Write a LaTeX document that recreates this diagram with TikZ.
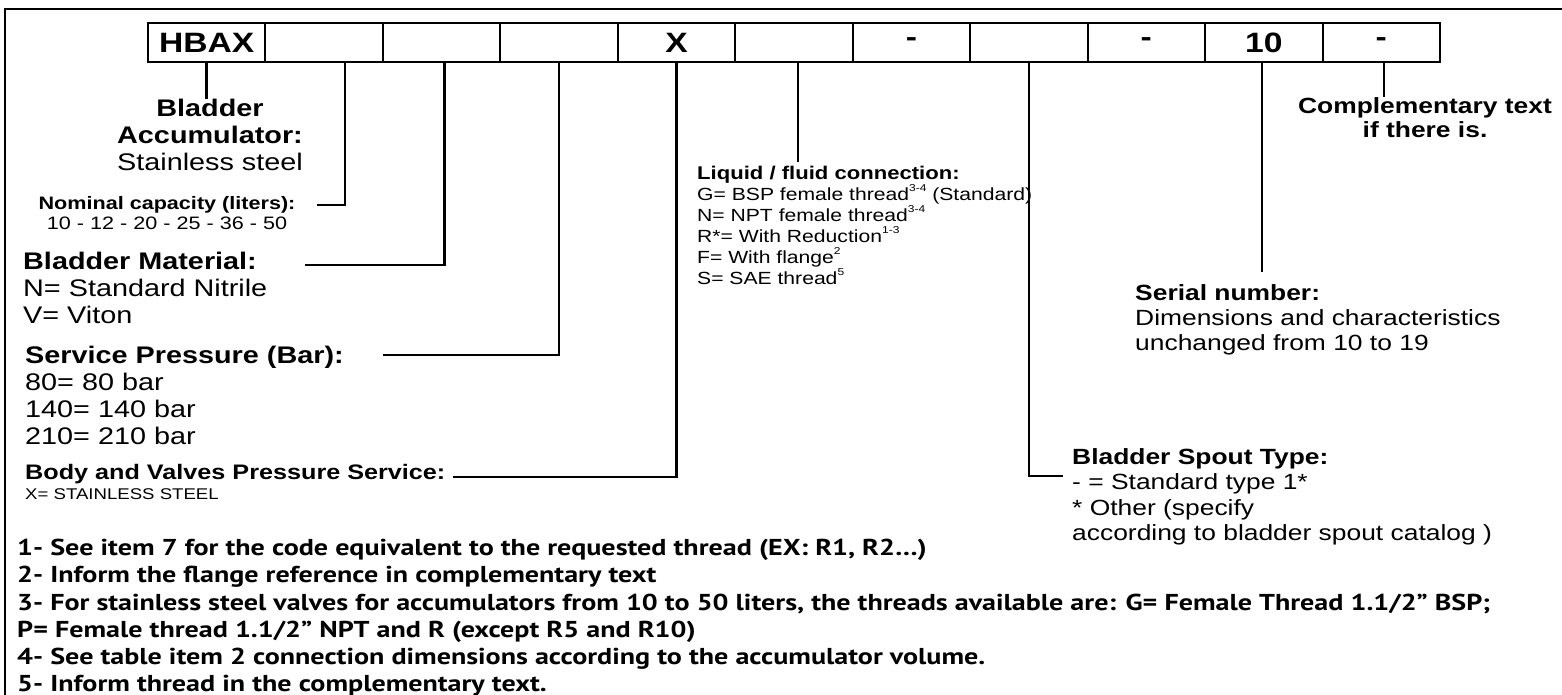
\documentclass[tikz,border=0pt]{standalone}
\usepackage{fontspec}
\setmainfont{Liberation Sans}[FakeStretch=1.2]
\newfontfamily\notefont{PT Sans}[FakeStretch=1.22]
\usetikzlibrary{positioning}
\newcommand\supnote[1]{\raisebox{.5em}{\fontsize{10}{10}\selectfont #1}}
\newcommand\fsz[2]{\fontsize{#1}{#2}\selectfont}

\begin{document}
\begin{tikzpicture}[x=1pt,y=-1pt,
    cell/.style={draw,line width=2pt,minimum width=117.45pt,minimum height=39pt,
      outer sep=0pt,inner sep=0pt,font=\fsz{28}{30}\bfseries},
    link/.style={line width=2.6pt},
    lbl/.style={inner sep=0pt,align=left,anchor=north west},
  ]
  \useasboundingbox (0,0) rectangle (1562,695);
  \draw[line width=1.6pt] (5,695) -- (5,9) -- (1562,9);

  % code boxes
  \foreach \t [count=\i] in {HBAX,{},{},{},X,{},-,{},-,10,-}
    \node[cell] (b\i) at ({148+117.45*(\i-.5)},42.5) {\t};

  % labels
  \node[lbl,anchor=north,align=center,font=\fsz{24}{27}] (acc) at (210,99)
    {\textbf{Bladder}\\\textbf{Accumulator:}\\Stainless steel};
  \node[lbl,anchor=north,align=center,font=\fsz{18}{20}] (nom) at (167,196)
    {\textbf{Nominal capacity (liters):}\\10 - 12 - 20 - 25 - 36 - 50};
  \node[lbl,font=\fsz{24}{27}] (mat) at (23,252)
    {\textbf{Bladder Material:}\\N= Standard Nitrile\\V= Viton};
  \node[lbl,font=\fsz{24}{27}] (pres) at (25,346)
    {\textbf{Service Pressure (Bar):}\\80= 80 bar\\140= 140 bar\\210= 210 bar};
  \node[lbl,font=\fsz{21}{20}] (body) at (25,464)
    {\textbf{Body and Valves Pressure Service:}\\{\fsz{15.5}{20}X= STAINLESS STEEL}};
  \node[lbl,font=\fsz{17.6}{21}] (liq) at (697,166)
    {{\fsz{18.4}{21}\bfseries Liquid / fluid connection:}\\
     G= BSP female thread\supnote{3-4} (Standard)\\
     N= NPT female thread\supnote{3-4}\\
     R*= With Reduction\supnote{1-3}\\
     F= With flange\supnote{2}\\
     S= SAE thread\supnote{5}};
  \node[lbl,font=\fsz{22}{25}] (ser) at (1135,284)
    {\textbf{Serial number:}\\Dimensions and characteristics\\unchanged from 10 to 19};
  \node[lbl,font=\fsz{22}{25.5}] (spout) at (1072,448)
    {\textbf{Bladder Spout Type:}\\- = Standard type 1*\\* Other (specify\\according to bladder spout catalog )};
  \node[lbl,anchor=north,align=center,font=\fsz{22}{24}\bfseries] (comp) at (1425,97)
    {Complementary text\\if there is.};
  \node[lbl,font=\notefont\fsz{23}{27.2}\bfseries] (notes) at (17,539)
    {1- See item 7 for the code equivalent to the requested thread (EX: R1, R2\ldots)\\
     2- Inform the flange reference in complementary text\\
     3- For stainless steel valves for accumulators from 10 to 50 liters, the threads available are: G= Female Thread 1.1/2” BSP;\\
     P= Female thread 1.1/2” NPT and R (except R5 and R10)\\
     4- See table item 2 connection dimensions according to the accumulator volume.\\
     5- Inform thread in the complementary text.};

  % connector ends
  \coordinate (c2) at (317,205);
  \coordinate (c3) at (305,265);
  \coordinate (c4) at (383,355);
  \coordinate (c5) at (453,477);
  \coordinate (e6) at (798,162);
  \coordinate (c8) at (1063,476);
  \coordinate (e10) at (1262,272);
  \coordinate (e11) at (1384,97);

  \draw[link] (b1.south) -- (b1.south |- acc.north);
  \draw[link] ([xshift=21pt]b2.south) |- (c2);
  \draw[link] ([xshift=3pt]b3.south) |- (c3);
  \draw[link] (b4.south) |- (c4);
  \draw[link] (b5.south) |- (c5);
  \draw[link] (b6.south -| e6) -- (e6);
  \draw[link] (b8.south) |- (c8);
  \draw[link] (b10.south -| e10) -- (e10);
  \draw[link] (b11.south -| e11) -- (e11);
\end{tikzpicture}
\end{document}
